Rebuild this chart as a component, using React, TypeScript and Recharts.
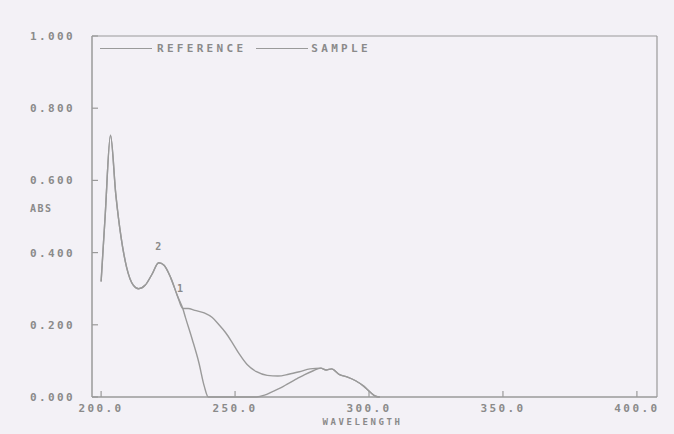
import { LineChart, Line, XAxis, YAxis, ReferenceDot, ReferenceLine } from 'recharts'

// values
const referenceNm = [200, 201.5, 203.5, 205.5, 207.5, 209.5, 212, 214, 216.5, 219, 221.5, 223.5, 226, 228.5, 230.5, 232.5, 235, 238.5, 241.5, 244, 246.5, 249, 251.5, 254.5, 258, 262, 266, 270, 274, 278, 282, 284, 286, 289, 292, 295, 298, 300.5, 302.5, 304]
const referenceAbs = [0.32, 0.5, 0.725, 0.56, 0.44, 0.36, 0.31, 0.3, 0.31, 0.34, 0.372, 0.365, 0.33, 0.28, 0.245, 0.245, 0.24, 0.233, 0.22, 0.2, 0.178, 0.15, 0.12, 0.09, 0.07, 0.06, 0.058, 0.063, 0.07, 0.078, 0.08, 0.075, 0.078, 0.062, 0.055, 0.045, 0.03, 0.013, 0.002, 0]

const sampleNm = [200, 201.5, 203.5, 205.5, 207.5, 209.5, 212, 214, 216.5, 219, 221.5, 223.5, 226, 228.5, 230.5, 231.5, 234, 236.5, 238.5, 240, 258, 261, 264, 267, 270, 273, 276, 279, 282, 284, 286, 289, 292, 295, 298, 300.5, 302.5, 304]
const sampleAbs = [0.32, 0.5, 0.725, 0.56, 0.44, 0.36, 0.31, 0.3, 0.31, 0.34, 0.372, 0.365, 0.33, 0.28, 0.245, 0.22, 0.16, 0.095, 0.03, 0, 0, 0.005, 0.015, 0.025, 0.038, 0.05, 0.062, 0.072, 0.08, 0.075, 0.078, 0.062, 0.055, 0.045, 0.03, 0.013, 0.002, 0]

const xTicks = [200, 250, 300, 350, 400]
const yTicks = [0, 0.2, 0.4, 0.6, 0.8, 1]

const peakMarks = [
  { nm: 221.3, abs: 0.418, text: '2' },
  { nm: 229.5, abs: 0.302, text: '1' }
]

const X_MIN = 196.6
const X_MAX = 407.5
const INK = '#9a9a9a'
const TEXT = '#8a8a8a'
const FONT = '"DejaVu Sans Mono", monospace'

const referenceData = referenceNm.map((nm, i) => ({ nm, abs: referenceAbs[i] }))
const sampleData = sampleNm.map((nm, i) => ({ nm, abs: sampleAbs[i] }))

function YTick({ x, y, payload }: any) {
  return (
    <g>
      <line x1={x + 17} x2={x + 23} y1={y} y2={y} stroke={INK} strokeWidth={1.2} />
      <text x={x} y={y} dy={4} textAnchor="end" fill={TEXT} fontSize={11} fontFamily={FONT} fontWeight="bold" letterSpacing={2.4}>
        {payload.value.toFixed(3)}
      </text>
    </g>
  )
}

function XTick({ x, y, payload }: any) {
  // y is axis line + tickMargin
  const axisY = y - 8
  return (
    <g>
      <line x1={x} x2={x} y1={axisY} y2={axisY - 6} stroke={INK} strokeWidth={1.2} />
      <text x={x} y={y} dy={7} textAnchor="middle" fill={TEXT} fontSize={11} fontFamily={FONT} fontWeight="bold" letterSpacing={2.4}>
        {payload.value.toFixed(1)}
      </text>
    </g>
  )
}

function SpectrumLegend() {
  const seg = { display: 'inline-block', width: 52, borderTop: `1.2px solid ${INK}`, verticalAlign: 'middle' }
  const txt = { color: TEXT, fontFamily: FONT, fontSize: 11, fontWeight: 'bold' as const, letterSpacing: 3.3 }
  return (
    <div style={{ position: 'absolute', left: 100, top: 41, whiteSpace: 'nowrap', lineHeight: '12px' }}>
      <span style={seg} />
      <span style={{ ...txt, marginLeft: 5 }}>REFERENCE</span>
      <span style={{ ...seg, marginLeft: 10 }} />
      <span style={{ ...txt, marginLeft: 3 }}>SAMPLE</span>
    </div>
  )
}

export default function App() {
  return (
    <div style={{ position: 'absolute', left: 0, top: 0, width: 674, height: 434, background: '#f3f1f6' }}>
      <LineChart width={674} height={434} margin={{ top: 36, right: 17, bottom: 0, left: 0 }}>
        <XAxis
          dataKey="nm"
          type="number"
          domain={[X_MIN, X_MAX]}
          ticks={xTicks}
          allowDataOverflow
          stroke={INK}
          strokeWidth={1.5}
          tickSize={0}
          tickMargin={8}
          tick={<XTick />}
          height={37}
          label={{ value: 'WAVELENGTH', position: 'insideBottom', dx: -12, offset: 9, fill: TEXT, fontSize: 9, fontFamily: FONT, fontWeight: 'bold', letterSpacing: 2.6 }}
        />
        <YAxis
          type="number"
          domain={[0, 1]}
          ticks={yTicks}
          stroke={INK}
          strokeWidth={1.5}
          width={92}
          tickSize={0}
          tickMargin={17}
          tick={<YTick />}
          label={{ value: 'ABS', position: 'insideLeft', dx: 25, dy: -8, fill: TEXT, fontSize: 10, fontFamily: FONT, fontWeight: 'bold', letterSpacing: 1.5 }}
        />
        <ReferenceLine y={1} stroke={INK} strokeWidth={1.2} />
        <ReferenceLine x={X_MAX} stroke={INK} strokeWidth={1.2} />
        <Line data={referenceData} dataKey="abs" name="REFERENCE" type="monotone" stroke={INK} strokeWidth={1.4} dot={false} isAnimationActive={false} />
        <Line data={sampleData} dataKey="abs" name="SAMPLE" type="monotone" stroke={INK} strokeWidth={1.4} dot={false} isAnimationActive={false} />
        {peakMarks.map(m => (
          <ReferenceDot key={m.text} x={m.nm} y={m.abs} r={0} label={{ value: m.text, position: 'center', fill: TEXT, fontSize: 10, fontFamily: FONT, fontWeight: 'bold' }} />
        ))}
      </LineChart>
      <SpectrumLegend />
    </div>
  )
}
